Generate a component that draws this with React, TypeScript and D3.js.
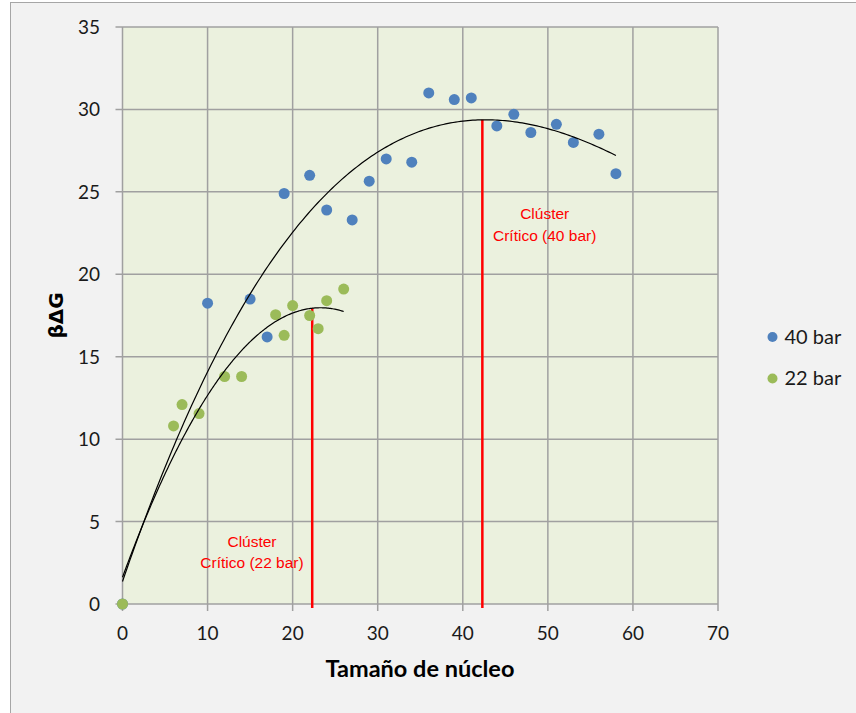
import React from 'react';
import * as d3 from 'd3';

const xTicks = [0, 10, 20, 30, 40, 50, 60, 70];
const yTicks = [0, 5, 10, 15, 20, 25, 30, 35];

const seriesNames = ['40 bar', '22 bar'];
const blueX = [0, 10, 15, 17, 19, 22, 24, 27, 29, 31, 34, 36, 39, 41, 44, 46, 48, 51, 53, 56, 58];
const blueY = [0, 18.25, 18.5, 16.2, 24.9, 26.0, 23.9, 23.3, 25.65, 27.0, 26.8, 31.0, 30.6, 30.7, 29.0, 29.7, 28.6, 29.1, 28.0, 28.5, 26.1];
const greenX = [0, 6, 7, 9, 12, 14, 18, 19, 20, 22, 23, 24, 26];
const greenY = [0, 10.8, 12.1, 11.55, 13.8, 13.8, 17.55, 16.3, 18.1, 17.5, 16.7, 18.4, 19.1];

const trendOrder = [3, 2];
const trendEnd = [58, 26];
const criticalX = [42.3, 22.3];
const annotationLines = [
  ['Clúster', 'Crítico (40 bar)'],
  ['Clúster', 'Crítico (22 bar)'],
];

const COLORS = ['#4F81BD', '#9BBB59'];

function polyfit(xs: number[], ys: number[], order: number): number[] {
  const n = order + 1;
  const A: number[][] = [];
  for (let i = 0; i < n; i++) {
    const row: number[] = [];
    for (let j = 0; j < n; j++) row.push(d3.sum(xs, (x) => Math.pow(x, i + j)));
    row.push(d3.sum(xs, (x, k) => ys[k] * Math.pow(x, i)));
    A.push(row);
  }
  for (let c = 0; c < n; c++) {
    let p = c;
    for (let r = c + 1; r < n; r++) if (Math.abs(A[r][c]) > Math.abs(A[p][c])) p = r;
    [A[c], A[p]] = [A[p], A[c]];
    for (let r = 0; r < n; r++) {
      if (r === c) continue;
      const f = A[r][c] / A[c][c];
      for (let k = c; k <= n; k++) A[r][k] -= f * A[c][k];
    }
  }
  return A.map((row, i) => row[n] / row[i]);
}

const evalPoly = (co: number[], x: number) => co.reduce((s, c, i) => s + c * Math.pow(x, i), 0);

export default function App() {
  const W = 856, H = 713;
  const x = d3.scaleLinear().domain([0, 70]).range([122.5, 718]);
  const y = d3.scaleLinear().domain([0, 35]).range([604, 27]);

  const series = [
    { name: seriesNames[0], xs: blueX, ys: blueY, color: COLORS[0] },
    { name: seriesNames[1], xs: greenX, ys: greenY, color: COLORS[1] },
  ];
  const fits = series.map((s, i) => polyfit(s.xs, s.ys, trendOrder[i]));
  const line = d3.line<[number, number]>().x((d) => x(d[0])).y((d) => y(d[1]));
  const trendPaths = fits.map((co, i) => {
    const pts: [number, number][] = d3.range(0, 201).map((k) => {
      const xv = (trendEnd[i] * k) / 200;
      return [xv, evalPoly(co, xv)];
    });
    return line(pts) || '';
  });

  const annPos = [
    { cx: 544.7, by: 219 },
    { cx: 252, by: 546.5 },
  ];

  const tickFont = 'Lato, Calibri, "DejaVu Sans", sans-serif';

  return (
    <svg width={W} height={H} style={{ position: 'absolute', left: 0, top: 0 }} xmlns="http://www.w3.org/2000/svg">
      <rect x={0} y={0} width={W} height={H} fill="#ffffff" />
      <rect x={10.5} y={2.5} width={W + 10} height={H + 10} fill="#F2F2F2" stroke="#A6A6A6" strokeWidth={1} />
      <rect x={x(0)} y={y(35)} width={x(70) - x(0)} height={y(0) - y(35)} fill="#EBF1DE" />
      {/* grid */}
      {xTicks.map((t) => (
        <line key={'gx' + t} x1={x(t)} x2={x(t)} y1={y(35)} y2={y(0) + 7} stroke="#A0A0A0" strokeWidth={1.5} />
      ))}
      {yTicks.map((t) => (
        <line key={'gy' + t} x1={x(0) - 7} x2={x(70)} y1={y(t)} y2={y(t)} stroke="#A0A0A0" strokeWidth={1.5} />
      ))}
      {/* tick labels */}
      {yTicks.map((t) => (
        <text key={'ly' + t} x={100} y={y(t) + 7} textAnchor="end" fontFamily={tickFont} fontSize={19} fill="#1a1a1a">
          {t}
        </text>
      ))}
      {xTicks.map((t) => (
        <text key={'lx' + t} x={x(t)} y={640} textAnchor="middle" fontFamily={tickFont} fontSize={19} fill="#1a1a1a">
          {t}
        </text>
      ))}
      {/* axis titles */}
      <text x={420} y={677} textAnchor="middle" fontFamily={tickFont} fontWeight="bold" fontSize={23.5} fill="#000">
        Tamaño de núcleo
      </text>
      <text
        transform={`translate(63, 315.5) rotate(-90)`}
        textAnchor="middle"
        fontFamily='"DejaVu Sans", sans-serif'
        fontWeight="bold"
        fontSize={20}
        fill="#000"
      >
        βΔG
      </text>
      {/* critical lines */}
      {criticalX.map((cx, i) => (
        <line key={'cl' + i} x1={x(cx)} x2={x(cx)} y1={y(0) + 4} y2={y(evalPoly(fits[i], cx))} stroke="#FF0000" strokeWidth={2.5} />
      ))}
      {/* points */}
      {series.map((s, si) =>
        s.xs.map((xv, k) => (
          <circle key={si + '-' + k} cx={x(xv)} cy={y(s.ys[k])} r={5.5} fill={s.color} />
        ))
      )}
      {/* trendlines */}
      {trendPaths.map((p, i) => (
        <path key={'tp' + i} d={p} fill="none" stroke="#000" strokeWidth={1.2} />
      ))}
      {/* annotations */}
      {annotationLines.map((lines, i) => (
        <text key={'an' + i} textAnchor="middle" fontFamily='"Liberation Sans", Arial, sans-serif' fontSize={15.5} fill="#FF0000">
          {lines.map((l, j) => (
            <tspan key={j} x={annPos[i].cx} y={annPos[i].by + j * 21.5}>
              {l}
            </tspan>
          ))}
        </text>
      ))}
      {/* legend */}
      {series.map((s, i) => (
        <g key={'lg' + i}>
          <circle cx={772.5} cy={337 + i * 41.5} r={5} fill={s.color} />
          <text x={784.5} y={343.5 + i * 41.5} fontFamily={tickFont} fontSize={20} fill="#1a1a1a">
            {s.name}
          </text>
        </g>
      ))}
    </svg>
  );
}
